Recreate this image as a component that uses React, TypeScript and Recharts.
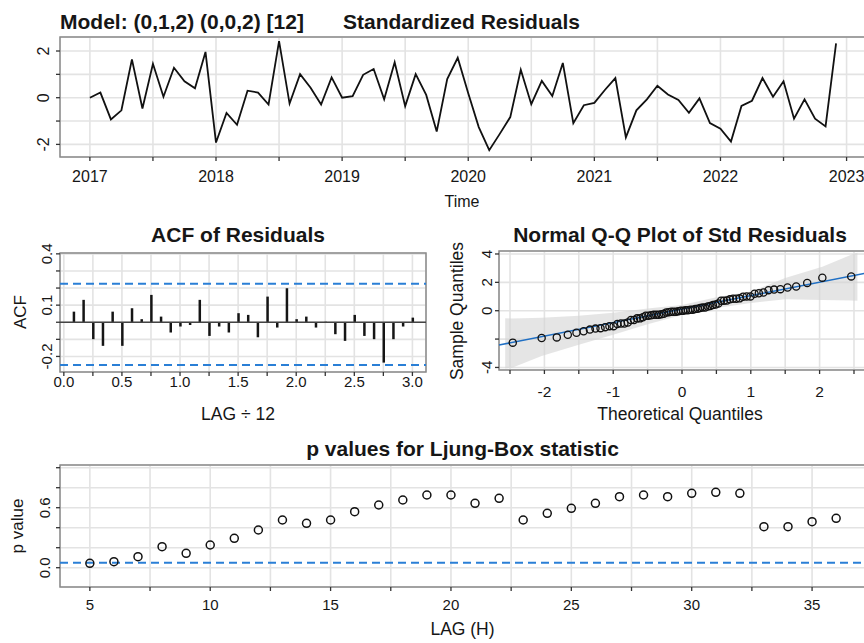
import React from 'react';
import {
  LineChart, Line, XAxis, YAxis, CartesianGrid, ReferenceArea, ReferenceLine,
  BarChart, Bar, ComposedChart, Scatter, Area,
} from 'recharts';

const FONT = '"Liberation Sans", Arial, Helvetica, sans-serif';
const TXT = '#161616';
const GRID = '#e3e3e3';
const BOX = '#8a8a8a';
const BLUE = '#2a7fd6';
const TICK = '#333333';

// ---------- data ----------
const startYear = 2017;
const residuals = [
  0.0, 0.22, -0.93, -0.54, 1.64, -0.46, 1.45, 0.04, 1.28, 0.7, 0.4, 1.96,
  -1.92, -0.65, -1.16, 0.3, 0.22, -0.29, 2.42, -0.25, 1.01, 0.43, -0.29, 0.87,
  0.0, 0.07, 0.98, 1.23, -0.07, 1.52, -0.36, 1.01, 0.12, -1.45, 0.8, 1.71,
  0.19, -1.26, -2.25, -1.55, -0.83, 1.2, -0.28, 0.72, 0.07, 1.49, -1.09, -0.32,
  -0.22, 0.33, 0.84, -1.7, -0.54, -0.07, 0.51, 0.14, -0.1, -0.65, -0.03, -1.09,
  -1.33, -1.88, -0.35, -0.13, 0.84, 0.04, 0.7, -0.9, -0.07, -0.9, -1.23, 2.33,
];
const yearTicks = [2017, 2017.5, 2018, 2018.5, 2019, 2019.5, 2020, 2020.5, 2021, 2021.5, 2022, 2022.5, 2023];
const residYTicks = [-2, -1, 0, 1, 2];
const residYLabels = [-2, 0, 2];

const acfValues = [
  0.062, 0.131, -0.099, -0.138, 0.062, -0.138, 0.082, 0.018, 0.16, 0.033, -0.06, -0.025,
  -0.016, 0.131, -0.08, -0.025, -0.06, 0.053, 0.043, -0.088, 0.15, -0.031, 0.199, 0.018,
  0.033, -0.031, 0.003, -0.07, -0.109, 0.043, -0.08, -0.099, -0.236, -0.099, -0.025, 0.027,
];
const acfUpper = 0.225;
const acfLower = -0.25;
const acfXTicks = [0, 0.25, 0.5, 0.75, 1, 1.25, 1.5, 1.75, 2, 2.25, 2.5, 2.75, 3];
const acfYTicks = [-0.2, -0.1, 0, 0.1, 0.2, 0.3, 0.4];
const acfYLabels = [-0.2, 0.1, 0.4];

const qqTheoretical = [
  -2.46, -2.04, -1.82, -1.66, -1.534, -1.43, -1.339, -1.258, -1.184, -1.117, -1.055, -0.995,
  -0.94, -0.887, -0.837, -0.788, -0.742, -0.697, -0.653, -0.61, -0.569, -0.528, -0.489, -0.45,
  -0.411, -0.374, -0.337, -0.3, -0.264, -0.228, -0.192, -0.157, -0.122, -0.087, -0.052, -0.017,
  0.017, 0.052, 0.087, 0.122, 0.157, 0.192, 0.228, 0.264, 0.3, 0.337, 0.374, 0.411,
  0.45, 0.489, 0.528, 0.569, 0.61, 0.653, 0.697, 0.742, 0.788, 0.837, 0.887, 0.94,
  0.995, 1.055, 1.117, 1.184, 1.258, 1.339, 1.43, 1.534, 1.66, 1.82, 2.04, 2.46,
];
const bandZ = [-2.57, -2.46, -2.04, -1.5, -1.0, -0.5, 0, 0.5, 1.0, 1.5, 2.04, 2.46, 2.55];
const bandLow = [-4.07, -4.0, -3.2, -2.4, -1.7, -0.95, -0.3, 0.2, 0.55, 0.8, 0.75, 0.72, 0.7];
const bandHigh = [-0.54, -0.55, -0.5, -0.35, -0.15, 0.15, 0.4, 0.95, 1.35, 2.3, 3.1, 3.95, 4.09];
const qqLineZ = [-2.66, 2.66];
const qqLineY = [-2.42, 2.64];
const qqXTicks = [-2.5, -2, -1.5, -1, -0.5, 0, 0.5, 1, 1.5, 2, 2.5];
const qqYTicks = [-4, -2, 0, 2, 4];
const qqYLabels = [4, 2, 0, -4];

const lbLags = [5, 6, 7, 8, 9, 10, 11, 12, 13, 14, 15, 16, 17, 18, 19, 20, 21, 22, 23, 24, 25, 26, 27, 28, 29, 30, 31, 32, 33, 34, 35, 36];
const lbPValues = [
  0.044, 0.06, 0.11, 0.21, 0.144, 0.227, 0.294, 0.377, 0.477, 0.444, 0.477, 0.56,
  0.627, 0.677, 0.727, 0.727, 0.644, 0.694, 0.477, 0.544, 0.594, 0.644, 0.71, 0.727,
  0.71, 0.744, 0.754, 0.744, 0.41, 0.41, 0.46, 0.494,
];
const lbAlpha = 0.05;
const lbXTicks = [5, 7.5, 10, 12.5, 15, 17.5, 20, 22.5, 25, 27.5, 30, 32.5, 35];
const lbYTicks = [0, 0.2, 0.4, 0.6, 0.8, 1];
const lbYLabels = [0, 0.6];

// ---------- derived tables ----------
const residData = residuals.map((r, i) => ({ t: startYear + i / 12, r }));
const acfData = acfValues.map((v, i) => ({ lag: (i + 1) / 12, acf: v }));
const sortedResid = [...residuals].sort((a, b) => a - b);
const qqData = qqTheoretical.map((z, i) => ({ x: z, y: sortedResid[i] }));
const bandData = bandZ.map((z, i) => ({ x: z, range: [bandLow[i], bandHigh[i]] }));
const lbData = lbLags.map((l, i) => ({ lag: l, p: lbPValues[i] }));

// ---------- helpers ----------
const W = 880;
const AX = 40;
function frame(x0: number, y0: number, x1: number, y1: number) {
  return {
    width: W,
    height: y1 + AX,
    margin: { top: y0, right: W - x1, bottom: 0, left: x0 - AX },
  };
}
const near = (a: number, list: number[]) => list.some((b) => Math.abs(a - b) < 1e-6);

const makeXTick = (fmt: (v: number) => string | null, dy: number, fs: number) => (props: any) => {
  const { x, y, payload } = props;
  const s = fmt(payload.value);
  if (s === null) return <g />;
  return (
    <text x={x} y={y + dy} textAnchor="middle" fontSize={fs} fontFamily={FONT} fill={TXT}>
      {s}
    </text>
  );
};
const makeYTick = (fmt: (v: number) => string | null, dx: number, fs: number) => (props: any) => {
  const { x, y, payload } = props;
  const s = fmt(payload.value);
  if (s === null) return <g />;
  const bx = x - dx;
  return (
    <text x={bx} y={y} transform={`rotate(-90 ${bx} ${y})`} textAnchor="middle" fontSize={fs} fontFamily={FONT} fill={TXT}>
      {s}
    </text>
  );
};

const abs = { position: 'absolute' as const, left: 0, top: 0 };

export default function App() {
  // frames
  const fTop = frame(60, 37, 866, 157);
  const fAcf = frame(60, 253, 426, 372);
  const fQQ = frame(499, 251, 865, 370);
  const fLB = frame(60, 465, 866, 587);

  const topDomX: [number, number] = [2016.763, 2023.154];
  const topDomY: [number, number] = [-2.54, 2.6];
  const acfDomX: [number, number] = [-0.033, 3.117];
  const acfDomY: [number, number] = [-0.291, 0.405];
  const qqDomX: [number, number] = [-2.66, 2.66];
  const qqDomY: [number, number] = [-4.18, 4.21];
  const lbDomX: [number, number] = [3.76, 37.24];
  const lbDomY: [number, number] = [-0.193, 1.027];

  return (
    <div style={{ position: 'absolute', left: 0, top: 0, width: 864, height: 643, overflow: 'hidden', background: '#fff' }}>
      {/* Standardized residuals */}
      <div style={abs}>
        <LineChart width={fTop.width} height={fTop.height} margin={fTop.margin} data={residData}>
          <CartesianGrid stroke={GRID} strokeWidth={1.6} />
          <XAxis
            type="number" dataKey="t" domain={topDomX} ticks={yearTicks} allowDataOverflow
            height={AX} axisLine={false} tickSize={4} tickMargin={0} tickLine={{ stroke: TICK, strokeWidth: 1.3 }}
            tick={makeXTick((v) => (Number.isInteger(v) ? String(v) : null), 20.5, 16)} interval={0}
          />
          <YAxis
            type="number" domain={topDomY} ticks={residYTicks} allowDataOverflow
            width={AX} axisLine={false} tickSize={4} tickMargin={0} tickLine={{ stroke: TICK, strokeWidth: 1.3 }}
            tick={makeYTick((v) => (near(v, residYLabels) ? String(v) : null), 7, 16)} interval={0}
          />
          <Line type="linear" dataKey="r" stroke="#111" strokeWidth={1.8} dot={false} isAnimationActive={false} />
          <ReferenceArea x1={topDomX[0]} x2={topDomX[1]} y1={topDomY[0]} y2={topDomY[1]} fill="none" stroke={BOX} strokeWidth={1.5} ifOverflow="visible" />
        </LineChart>
      </div>

      {/* ACF */}
      <div style={abs}>
        <BarChart width={fAcf.width} height={fAcf.height} margin={fAcf.margin} data={acfData} barSize={2.5}>
          <CartesianGrid stroke={GRID} strokeWidth={1.6} />
          <XAxis
            type="number" dataKey="lag" domain={acfDomX} ticks={acfXTicks} allowDataOverflow
            height={AX} axisLine={false} tickSize={4} tickMargin={0} tickLine={{ stroke: TICK, strokeWidth: 1.3 }}
            tick={makeXTick((v) => (near(v * 2, [0, 1, 2, 3, 4, 5, 6]) ? v.toFixed(1) : null), 10.5, 15)} interval={0}
          />
          <YAxis
            type="number" domain={acfDomY} ticks={acfYTicks} allowDataOverflow
            width={AX} axisLine={false} tickSize={4} tickMargin={0} tickLine={{ stroke: TICK, strokeWidth: 1.3 }}
            tick={makeYTick((v) => (near(v, acfYLabels) ? v.toFixed(1) : null), 4, 15)} interval={0}
          />
          <ReferenceLine y={0} stroke="#444" strokeWidth={1.5} />
          <ReferenceLine y={acfUpper} stroke={BLUE} strokeWidth={2} strokeDasharray="8 5" />
          <ReferenceLine y={acfLower} stroke={BLUE} strokeWidth={2} strokeDasharray="8 5" />
          <Bar dataKey="acf" fill="#151515" isAnimationActive={false} />
          <ReferenceArea x1={acfDomX[0]} x2={acfDomX[1]} y1={acfDomY[0]} y2={acfDomY[1]} fill="none" stroke={BOX} strokeWidth={1.5} ifOverflow="visible" />
        </BarChart>
      </div>

      {/* Q-Q */}
      <div style={abs}>
        <ComposedChart width={fQQ.width} height={fQQ.height} margin={fQQ.margin}>
          <CartesianGrid stroke={GRID} strokeWidth={1.6} />
          <XAxis
            type="number" dataKey="x" domain={qqDomX} ticks={qqXTicks} allowDataOverflow
            height={AX} axisLine={false} tickSize={4} tickMargin={0} tickLine={{ stroke: TICK, strokeWidth: 1.3 }}
            tick={makeXTick((v) => (Number.isInteger(v) ? String(v) : null), 22.5, 15.5)} interval={0}
          />
          <YAxis
            type="number" domain={qqDomY} ticks={qqYTicks} allowDataOverflow
            width={AX} axisLine={false} tickSize={4} tickMargin={0} tickLine={{ stroke: TICK, strokeWidth: 1.3 }}
            tick={makeYTick((v) => (near(v, qqYLabels) ? String(v) : null), 3, 15)} interval={0}
          />
          <Area data={bandData} dataKey="range" type="linear" stroke="none" fill="#d4d4d4" fillOpacity={0.6} isAnimationActive={false} />
          <ReferenceLine
            segment={[{ x: qqLineZ[0], y: qqLineY[0] }, { x: qqLineZ[1], y: qqLineY[1] }]}
            stroke="#1f6fc4" strokeWidth={1.5} ifOverflow="visible"
          />
          <Scatter
            data={qqData} dataKey="y" isAnimationActive={false}
            shape={(p: any) => <circle cx={p.cx} cy={p.cy} r={3.6} fill="none" stroke="#111" strokeWidth={1.3} />}
          />
          <ReferenceArea x1={qqDomX[0]} x2={qqDomX[1]} y1={qqDomY[0]} y2={qqDomY[1]} fill="none" stroke={BOX} strokeWidth={1.5} ifOverflow="visible" />
        </ComposedChart>
      </div>

      {/* Ljung-Box */}
      <div style={abs}>
        <ComposedChart width={fLB.width} height={fLB.height} margin={fLB.margin} data={lbData}>
          <CartesianGrid stroke={GRID} strokeWidth={1.6} />
          <XAxis
            type="number" dataKey="lag" domain={lbDomX} ticks={lbXTicks} allowDataOverflow
            height={AX} axisLine={false} tickSize={4} tickMargin={0} tickLine={{ stroke: TICK, strokeWidth: 1.3 }}
            tick={makeXTick((v) => (near(v % 5, [0]) ? String(v) : null), 19, 15)} interval={0}
          />
          <YAxis
            type="number" domain={lbDomY} ticks={lbYTicks} allowDataOverflow
            width={AX} axisLine={false} tickSize={4} tickMargin={0} tickLine={{ stroke: TICK, strokeWidth: 1.3 }}
            tick={makeYTick((v) => (near(v, lbYLabels) ? v.toFixed(1) : null), 5.5, 15)} interval={0}
          />
          <ReferenceLine y={lbAlpha} stroke={BLUE} strokeWidth={2} strokeDasharray="8 5" />
          <Scatter
            dataKey="p" isAnimationActive={false}
            shape={(p: any) => <circle cx={p.cx} cy={p.cy} r={4} fill="none" stroke="#111" strokeWidth={1.5} />}
          />
          <ReferenceArea x1={lbDomX[0]} x2={lbDomX[1]} y1={lbDomY[0]} y2={lbDomY[1]} fill="none" stroke={BOX} strokeWidth={1.5} ifOverflow="visible" />
        </ComposedChart>
      </div>

      {/* titles and axis labels */}
      <svg width={864} height={643} style={{ ...abs, pointerEvents: 'none' }} fontFamily={FONT} fill={TXT}>
        <text x={60} y={29.3} fontSize={21} fontWeight="bold">Model: (0,1,2) (0,0,2) [12]</text>
        <text x={343} y={29.3} fontSize={21} fontWeight="bold">Standardized Residuals</text>
        <text x={462} y={207} fontSize={16} textAnchor="middle">Time</text>

        <text x={238} y={241.7} fontSize={21} fontWeight="bold" textAnchor="middle">ACF of Residuals</text>
        <text x={26} y={312} fontSize={17} textAnchor="middle" transform="rotate(-90 26 312)">ACF</text>
        <text x={238} y={420} fontSize={17.5} textAnchor="middle">LAG ÷ 12</text>

        <text x={680} y={242} fontSize={21} fontWeight="bold" textAnchor="middle">Normal Q-Q Plot of Std Residuals</text>
        <text x={463} y={311} fontSize={17.5} textAnchor="middle" transform="rotate(-90 463 311)">Sample Quantiles</text>
        <text x={680} y={420} fontSize={17.5} textAnchor="middle">Theoretical Quantiles</text>

        <text x={462.5} y={456} fontSize={21} fontWeight="bold" textAnchor="middle">p values for Ljung-Box statistic</text>
        <text x={23} y={526} fontSize={17} textAnchor="middle" transform="rotate(-90 23 526)">p value</text>
        <text x={462.5} y={635} fontSize={17.5} textAnchor="middle">LAG (H)</text>
      </svg>
    </div>
  );
}
